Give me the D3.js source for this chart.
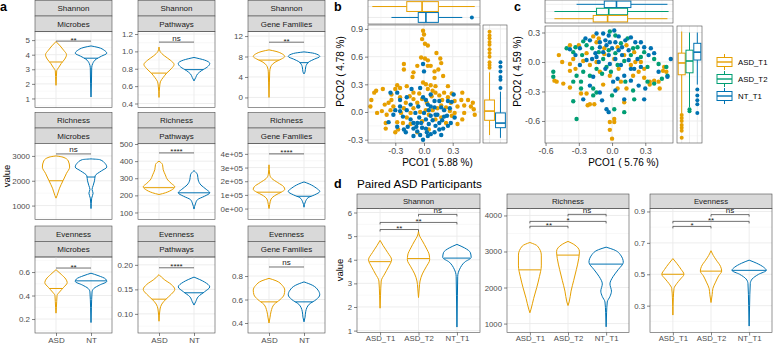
<!DOCTYPE html>
<html>
<meta charset="utf-8" />
<script src="https://d3js.org/d3.v7.min.js"></script>
<style>
  body { margin: 0; background: #fff; }
  svg { display: block; font-family: "Liberation Sans", Arial, sans-serif; }
</style>
<body>
<svg id="fig" width="773" height="345"></svg>
<script>
const ORANGE = "#E69F00", BLUE = "#0072B2", GREEN = "#009E73";

// ---------- panel a : violin profiles [value, half width in category units]
const aGroups = ["ASD", "NT"];
const aMetrics = ["Shannon", "Richness", "Evenness"];
const aSources = ["Microbes", "Pathways", "Gene Families"];

const shanMicASD = [[4.9,0],[4.6,0.12],[4.3,0.22],[4.0,0.30],[3.7,0.25],[3.4,0.15],[3.1,0.07],[2.9,0.02],[2.5,0.012],[1.9,0]];
const shanMicNT = [[4.6,0],[4.5,0.2],[4.3,0.38],[4.1,0.45],[3.9,0.3],[3.7,0.15],[3.4,0.05],[3.1,0.02],[2.0,0.012],[1.1,0]];
const shanPathASD = [[1.05,0],[1.0,0.03],[0.95,0.15],[0.9,0.32],[0.85,0.43],[0.8,0.35],[0.75,0.22],[0.7,0.12],[0.65,0.04],[0.6,0.02],[0.47,0]];
const shanPathNT = [[0.93,0],[0.9,0.3],[0.86,0.45],[0.82,0.38],[0.78,0.22],[0.74,0.1],[0.7,0.05],[0.66,0]];
const shanGeneASD = [[9.3,0],[9,0.2],[8.5,0.38],[8,0.45],[7.5,0.35],[7,0.2],[6.5,0.1],[6,0.05],[5,0.02],[3,0.012],[0,0]];
const shanGeneNT = [[8.9,0],[8.6,0.3],[8,0.45],[7.5,0.3],[7,0.15],[6.5,0.08],[6,0.05],[5,0.03],[4.6,0]];
const richMicASD = [[3000,0],[2950,0.2],[2800,0.35],[2550,0.39],[2300,0.3],[2000,0.2],[1700,0.1],[1400,0.03],[1300,0]];
const richMicNT = [[2880,0],[2850,0.25],[2700,0.4],[2550,0.45],[2400,0.3],[2200,0.12],[2000,0.1],[1800,0.06],[1650,0.03],[1500,0.06],[1300,0.02],[880,0]];
const richPathASD = [[400,0],[380,0.1],[350,0.12],[320,0.18],[290,0.25],[270,0.35],[250,0.45],[230,0.35],[210,0.1],[205,0]];
const richPathNT = [[345,0],[320,0.1],[290,0.12],[260,0.2],[235,0.35],[215,0.45],[195,0.3],[175,0.1],[150,0.04],[120,0]];
const richGeneASD = [[320000,0],[250000,0.02],[220000,0.08],[190000,0.25],[160000,0.42],[140000,0.45],[120000,0.35],[100000,0.2],[70000,0.06],[30000,0.02],[0,0]];
const richGeneNT = [[195000,0],[180000,0.15],[150000,0.35],[125000,0.45],[100000,0.3],[80000,0.12],[50000,0.04],[10000,0]];
const evenMicASD = [[0.62,0],[0.58,0.15],[0.54,0.28],[0.51,0.32],[0.47,0.22],[0.43,0.1],[0.4,0.03],[0.3,0.012],[0.25,0]];
const evenMicNT = [[0.59,0],[0.57,0.2],[0.54,0.42],[0.52,0.45],[0.49,0.25],[0.46,0.08],[0.43,0.03],[0.3,0.012],[0.17,0]];
const evenPathASD = [[0.18,0],[0.17,0.15],[0.16,0.35],[0.15,0.45],[0.14,0.35],[0.13,0.2],[0.12,0.08],[0.11,0.03],[0.085,0]];
const evenPathNT = [[0.175,0],[0.165,0.3],[0.155,0.45],[0.145,0.3],[0.135,0.12],[0.125,0.05],[0.118,0]];
const evenGeneASD = [[0.78,0],[0.76,0.2],[0.72,0.38],[0.68,0.45],[0.64,0.43],[0.6,0.32],[0.56,0.15],[0.5,0.06],[0.45,0.03],[0.4,0]];
const evenGeneNT = [[0.75,0],[0.72,0.25],[0.68,0.4],[0.64,0.45],[0.6,0.35],[0.56,0.15],[0.5,0.05],[0.45,0.03],[0.41,0]];

const aMedASD = [3.5, 0.75, 7.3, 2000, 245, 120000, 0.46, 0.13, 0.58];
const aMedNT = [3.76, 0.79, 6.8, 2150, 215, 90000, 0.525, 0.143, 0.58];
const aSig = ["**", "ns", "**", "ns", "****", "****", "**", "****", "ns"];
const aSigY = [4.93, 1.107, 10.8, 3080, 448, 400000, 0.634, 0.194, 0.877];

const aDomains = [[0.38,5.59],[0.354,1.229],[-1.97,12.89],[440,3500],[59,503],[-80000,476000],[0.081,0.728],[0.061,0.216],[0.315,0.962]];
const aTicks = [[1,2,3,4,5],[0.4,0.6,0.8,1.0,1.2],[0,4,8,12],[1000,2000,3000],[100,200,300,400,500],[0,100000,200000,300000,400000],[0.2,0.4,0.6],[0.10,0.15,0.20],[0.4,0.6,0.8]];

// ---------- panel b / c : PCoA points [PCO1, PCO2]
const bASD = [[-0.01,0.88],[0,0.84],[-0.02,0.79],[0.01,0.74],[0.04,0.72],[-0.03,0.59],[0.01,0.58],[0.04,0.56],[0.13,0.64],[0.17,0.58],[0.18,0.53],[0.15,0.46],[0.11,0.44],[0.07,0.5],[0.04,0.5],[-0.07,0.5],[-0.11,0.43],[-0.12,0.38],[-0.21,0.52],[-0.21,0.46],[0.11,0.37],[0.2,0.39],[-0.01,0.32],[0.02,0.3],[0.07,0.29],[0.04,0.25],[0.12,0.28],[-0.28,0.29],[-0.3,0.25],[-0.25,0.26],[-0.18,0.28],[-0.43,0.25],[-0.5,0.23],[-0.52,0.21],[-0.55,0.13],[-0.56,0.06],[-0.49,-0.01],[-0.44,0.01],[-0.41,0.08],[-0.37,0.1],[-0.34,0.13],[-0.32,0.06],[-0.35,0.02],[-0.39,-0.03],[-0.4,-0.12],[-0.4,-0.18],[-0.28,-0.11],[-0.24,-0.01],[-0.19,0.1],[-0.21,0.04],[-0.15,0.17],[-0.11,0.14],[-0.07,0.1],[-0.05,0.2],[-0.02,0.14],[0.03,0.1],[0.08,0.17],[0.12,0.21],[0.16,0.18],[0.21,0.21],[0.25,0.16],[0.29,0.2],[0.32,0.12],[0.35,0.06],[0.39,0.13],[0.42,0.07],[0.46,0.13],[0.49,0.06],[0.51,0.1],[0.52,0.03],[0.53,-0.03],[0.42,-0.01],[0.4,-0.08],[0.35,-0.13],[0.29,-0.04],[0.27,0.01],[0.23,0.05],[0.18,0.07],[0.14,0.04],[0.09,0.02],[0.05,-0.03],[0.02,0.02],[-0.04,0],[-0.11,0.04],[-0.14,-0.01],[-0.18,-0.06],[-0.22,-0.12],[-0.27,-0.19],[-0.3,-0.22],[-0.14,-0.13],[0.18,-0.06],[0.23,-0.12],[0.05,-0.19],[-0.07,-0.22],[-0.02,-0.1],[0.12,-0.08],[0.28,0.1],[-0.25,0.16],[-0.34,0.19],[0.4,0.21],[0.32,-0.01],[-0.11,0.21],[0.25,0.28],[0.09,0.23],[0.19,0.13]];
const bNT = [[-0.01,0.52],[0,0.44],[-0.13,0.25],[-0.04,0.26],[-0.18,0.16],[-0.28,0.21],[-0.35,0.21],[-0.25,0.13],[0.02,0.13],[0.04,0.08],[0.07,0.06],[0.11,0.12],[0.16,0.12],[0.18,0.05],[0.21,0.02],[0.27,0.04],[0.32,-0.06],[0.28,-0.12],[0.25,-0.15],[0.2,-0.18],[0.16,-0.19],[0.11,-0.22],[0.07,-0.24],[0.04,-0.26],[-0.01,-0.3],[-0.04,-0.25],[-0.07,-0.21],[-0.11,-0.18],[-0.11,-0.12],[-0.14,-0.08],[-0.17,-0.16],[-0.19,-0.22],[-0.21,-0.19],[-0.25,0.01],[-0.3,0.02],[-0.32,-0.03],[-0.37,-0.11],[-0.28,-0.16],[-0.09,-0.01],[-0.05,-0.06],[-0.03,-0.12],[0.02,-0.08],[0.05,-0.13],[0.09,-0.09],[0.12,-0.15],[0.16,-0.12],[0.19,-0.09],[0.21,-0.05],[0.14,-0.03],[0,-0.01],[-0.06,0.06],[-0.01,0.16],[0.07,0.19],[0.12,-0.03],[0.02,-0.18],[0.07,-0.04],[-0.11,-0.26],[0.18,-0.25],[-0.22,-0.05],[-0.18,0.02],[0.29,0.11],[0.31,0.19],[0.25,0.12],[-0.07,-0.12],[-0.14,0.08],[-0.25,0.06],[0.05,0.02],[0.24,-0.04],[0.11,0.05],[-0.02,-0.17],[-0.08,-0.16],[0.03,-0.22]];

const cT1 = [[0,-0.78],[-0.02,-0.69],[0.02,-0.61],[0.02,-0.58],[-0.02,-0.61],[-0.22,-0.44],[-0.2,-0.43],[-0.16,-0.43],[0.11,-0.41],[-0.08,-0.23],[-0.23,-0.32],[-0.28,-0.32],[-0.38,-0.26],[-0.44,-0.22],[-0.5,-0.2],[-0.52,-0.19],[-0.48,0.07],[-0.45,0],[-0.38,-0.02],[-0.38,-0.09],[-0.33,-0.07],[-0.35,0.03],[-0.3,0.17],[-0.38,0.17],[-0.17,0.26],[-0.12,0.24],[-0.23,0.09],[-0.26,0.01],[-0.2,-0.03],[-0.14,0],[-0.11,-0.1],[-0.02,-0.14],[0.06,-0.07],[0.02,0.03],[0.11,0.07],[0.17,-0.03],[0.19,-0.14],[0.24,-0.1],[0.29,-0.16],[0.34,-0.2],[0.34,-0.23],[0.38,-0.19],[0.42,-0.2],[0.43,-0.27],[0.47,-0.05],[0.46,-0.09],[0.49,-0.1],[0.08,-0.2],[0.13,-0.27],[0.26,0],[0.2,0.1],[0.13,0.17],[0.05,0.15],[-0.07,0.14],[-0.07,0.08],[-0.14,0.2],[0.05,-0.27],[0.21,0],[0.29,-0.07]];
const cT2 = [[-0.53,-0.1],[-0.53,-0.15],[-0.35,-0.4],[-0.32,-0.58],[-0.28,-0.27],[-0.28,-0.2],[-0.17,-0.34],[-0.17,-0.27],[-0.14,-0.31],[0,-0.34],[0.02,-0.48],[0.11,-0.51],[0.2,-0.38],[0.19,-0.29],[0.12,-0.2],[0.32,-0.2],[0.38,-0.22],[0.45,-0.17],[0.5,-0.14],[0.49,-0.05],[0.42,-0.02],[0.38,0.03],[0.29,0.1],[0.23,0.15],[0.17,0.07],[0.11,0.01],[0.05,-0.03],[-0.01,-0.1],[-0.05,-0.05],[-0.09,-0.12],[-0.14,-0.07],[-0.2,-0.14],[-0.26,-0.1],[-0.32,-0.14],[-0.35,-0.2],[-0.41,0.14],[-0.33,0.15],[-0.35,0.1],[-0.27,0.07],[-0.23,0.17],[-0.18,0.14],[-0.12,0.1],[-0.08,0.03],[-0.03,0.12],[0.03,0.09],[0.08,0.19],[0.14,0.24],[0.19,0.14],[0.26,0.05],[0.32,-0.05],[-0.26,0.21],[-0.02,0.31],[0.03,0.27]];
const cNT = [[-0.24,0.24],[-0.2,0.22],[-0.14,0.29],[-0.08,0.29],[-0.03,0.27],[0.02,0.32],[0.06,0.26],[0.12,0.22],[0.17,0.25],[0.21,0.2],[0.26,0.2],[0.29,0.15],[0.35,0.14],[0.33,0.07],[0.38,0.09],[0.42,-0.1],[0.53,0.03],[0.5,-0.15],[0.26,-0.05],[0.2,-0.07],[0.15,0.02],[0.09,0.07],[0.06,0.12],[0,0.14],[-0.05,0.17],[-0.11,0.15],[-0.15,0.09],[-0.18,0.03],[-0.23,0.02],[-0.29,-0.03],[-0.33,0.07],[-0.38,0.13],[-0.29,0.14],[-0.11,0.2],[-0.06,0.22],[-0.02,0.2],[0.09,0.15],[0.15,0.12],[0.03,0.03],[-0.02,-0.02],[-0.06,-0.07],[-0.12,0],[-0.17,-0.15],[-0.2,-0.24],[-0.26,-0.38],[-0.11,-0.31],[-0.09,-0.39],[-0.05,-0.48],[-0.03,-0.51],[0.01,-0.2],[0.05,-0.17],[0.11,-0.14],[0.17,-0.19],[0.24,-0.24],[0.3,-0.27],[0.29,-0.38],[0.11,-0.38],[0.03,-0.29],[0.17,-0.07],[0.23,0.03],[0.08,-0.03],[-0.03,0.07],[0.03,0.2],[-0.08,0.1],[-0.14,0.05]];

// marginal boxplots: [lower whisker, q1, median, q3, upper whisker], plus outliers
const bTopBoxASD = [-0.54, -0.18, -0.02, 0.15, 0.53];
const bTopBoxNT = [-0.34, -0.06, 0.02, 0.15, 0.40];
const bTopOutNT = [0.50];
const bRightBoxASD = [-0.25, -0.09, 0.01, 0.13, 0.43];
const bRightOutASD = [0.48, 0.51, 0.54, 0.60, 0.64, 0.68, 0.73, 0.76, 0.80, 0.83, 0.87];
const bRightBoxNT = [-0.28, -0.17, -0.12, -0.01, 0.22];
const bRightOutNT = [0.26, 0.35, 0.38, 0.44, 0.49, 0.54];
const cTopBoxT1 = [-0.52, -0.17, -0.04, 0.14, 0.50];
const cTopBoxT2 = [-0.52, -0.14, -0.03, 0.14, 0.51];
const cTopBoxNT = [-0.32, -0.07, 0.04, 0.17, 0.50];
const cRightBoxT1 = [-0.52, -0.13, -0.01, 0.09, 0.31];
const cRightOutT1 = [-0.54, -0.57, -0.60, -0.64, -0.67, -0.70, -0.77];
const cRightBoxT2 = [-0.46, -0.11, 0.01, 0.12, 0.30];
const cRightOutT2 = [-0.48, -0.50];
const cRightBoxNT = [-0.23, 0.02, 0.10, 0.19, 0.30];
const cRightOutNT = [-0.28, -0.34, -0.39, -0.43, -0.52];

// ---------- panel d : paired ASD participants
const dGroups = ["ASD_T1", "ASD_T2", "NT_T1"];
const dMetrics = ["Shannon", "Richness", "Evenness"];
const dShanT1 = [[4.82,0],[4.6,0.08],[4.3,0.2],[4.0,0.3],[3.7,0.22],[3.4,0.12],[3.1,0.03],[2.5,0.012],[1.95,0]];
const dShanT2 = [[5.2,0],[5.0,0.03],[4.8,0.1],[4.5,0.2],[4.2,0.28],[4.0,0.29],[3.7,0.2],[3.4,0.1],[3.1,0.04],[2.8,0.02],[2.4,0]];
const dShanNT = [[4.65,0],[4.5,0.2],[4.3,0.35],[4.1,0.37],[3.9,0.2],[3.6,0.07],[3.3,0.02],[2.5,0.012],[1.15,0]];
const dRichT1 = [[3250,0],[3150,0.2],[2900,0.3],[2600,0.3],[2300,0.25],[2000,0.18],[1700,0.1],[1400,0.03],[1300,0]];
const dRichT2 = [[3280,0],[3200,0.15],[3000,0.3],[2800,0.28],[2500,0.22],[2200,0.15],[1900,0.08],[1600,0.03],[1500,0]];
const dRichNT = [[3120,0],[3050,0.2],[2900,0.38],[2700,0.45],[2500,0.32],[2300,0.18],[2100,0.1],[1900,0.14],[1750,0.1],[1600,0.03],[1300,0.012],[910,0]];
const dEvenT1 = [[0.6,0],[0.57,0.1],[0.53,0.22],[0.5,0.29],[0.47,0.2],[0.44,0.1],[0.41,0.03],[0.35,0.012],[0.24,0]];
const dEvenT2 = [[0.65,0],[0.62,0.06],[0.59,0.14],[0.55,0.25],[0.52,0.28],[0.49,0.2],[0.45,0.12],[0.41,0.05],[0.37,0.03],[0.32,0]];
const dEvenNT = [[0.59,0],[0.57,0.2],[0.545,0.38],[0.525,0.45],[0.5,0.25],[0.47,0.08],[0.44,0.03],[0.3,0.012],[0.17,0]];
const dMedT1 = [3.92, 2490, 0.5];
const dMedT2 = [4.05, 2900, 0.52];
const dMedNT = [4.07, 2650, 0.525];
const dPairs = [[0, 1], [0, 2], [1, 2]];
const dShanSig = ["**", "**", "ns"], dShanSigY = [5.28, 5.58, 5.92];
const dRichSig = ["**", "*", "ns"], dRichSigY = [3700, 3835, 4030];
const dEvenSig = ["*", "**", "ns"], dEvenSigY = [0.805, 0.837, 0.88];
const dDomains = [[0.92, 6.17], [752, 4193], [0.129, 0.919]];
const dTicks = [[1, 2, 3, 4, 5, 6], [1000, 2000, 3000, 4000], [0.3, 0.5, 0.7, 0.9]];

const svg = d3.select("#fig");
svg.append("rect").attr("width", 773).attr("height", 345).attr("fill", "#fff");

function styleAxis(a, fs) {
  a.select(".domain").remove();
  a.selectAll(".tick line").attr("stroke", "#333").attr("stroke-width", 0.6);
  a.selectAll(".tick text").attr("fill", "#4D4D4D").style("font-size", fs + "px")
    .style("font-family", '"Liberation Sans", Arial, sans-serif');
}

function gridY(g, ys, x0, x1, ticks, dom) {
  const s = ticks[1] - ticks[0];
  const minor = [];
  for (let v = ticks[0] - s / 2; v <= dom[1]; v += s) if (v >= dom[0]) minor.push(v);
  g.selectAll(null).data(minor).join("line")
    .attr("x1", x0).attr("x2", x1).attr("y1", d => ys(d)).attr("y2", d => ys(d))
    .attr("stroke", "#F0F0F0").attr("stroke-width", 0.5);
  g.selectAll(null).data(ticks.filter(v => v >= dom[0] && v <= dom[1])).join("line")
    .attr("x1", x0).attr("x2", x1).attr("y1", d => ys(d)).attr("y2", d => ys(d))
    .attr("stroke", "#EBEBEB").attr("stroke-width", 0.9);
}
function gridX(g, xs, y0, y1, ticks, dom) {
  const s = ticks[1] - ticks[0];
  const minor = [];
  for (let v = ticks[0] - s / 2; v <= dom[1]; v += s) if (v >= dom[0]) minor.push(v);
  g.selectAll(null).data(minor).join("line")
    .attr("y1", y0).attr("y2", y1).attr("x1", d => xs(d)).attr("x2", d => xs(d))
    .attr("stroke", "#F0F0F0").attr("stroke-width", 0.5);
  g.selectAll(null).data(ticks.filter(v => v >= dom[0] && v <= dom[1])).join("line")
    .attr("y1", y0).attr("y2", y1).attr("x1", d => xs(d)).attr("x2", d => xs(d))
    .attr("stroke", "#EBEBEB").attr("stroke-width", 0.9);
}

function strip(x, y, w, h, label, fs) {
  svg.append("rect").attr("x", x).attr("y", y).attr("width", w).attr("height", h)
    .attr("fill", "#D9D9D9").attr("stroke", "#4D4D4D").attr("stroke-width", 0.6);
  svg.append("text").attr("x", x + w / 2).attr("y", y + h / 2 + fs * 0.35)
    .attr("text-anchor", "middle").attr("fill", "#1A1A1A").style("font-size", fs + "px").text(label);
}

function halfWidthAt(prof, v) {
  for (let i = 0; i < prof.length - 1; i++) {
    const a = prof[i], b = prof[i + 1];
    if (v <= a[0] && v >= b[0]) return a[1] + (b[1] - a[1]) * (a[0] - v) / (a[0] - b[0]);
  }
  return 0;
}

function violinPanel(o) {
  const g = svg.append("g");
  const xs = d3.scalePoint().domain(o.groups).range([o.x, o.x + o.w]).padding(0.6);
  const ys = d3.scaleLinear().domain(o.domain).range([o.y + o.h, o.y]);
  const step = xs.step();
  gridY(g, ys, o.x, o.x + o.w, o.ticks, o.domain);
  g.selectAll(null).data(o.groups).join("line")
    .attr("x1", d => xs(d)).attr("x2", d => xs(d)).attr("y1", o.y).attr("y2", o.y + o.h)
    .attr("stroke", "#EBEBEB").attr("stroke-width", 0.9);

  o.groups.forEach((grp, i) => {
    const cx = xs(grp), prof = o.profiles[i];
    const area = d3.area()
      .y(d => ys(d[0])).x0(d => cx - d[1] * step).x1(d => cx + d[1] * step)
      .curve(d3.curveMonotoneY);
    g.append("path").attr("d", area(prof)).attr("fill", "none")
      .attr("stroke", o.colors[i]).attr("stroke-width", 1);
    const hw = halfWidthAt(prof, o.medians[i]) * step;
    g.append("line").attr("x1", cx - hw).attr("x2", cx + hw)
      .attr("y1", ys(o.medians[i])).attr("y2", ys(o.medians[i]))
      .attr("stroke", o.colors[i]).attr("stroke-width", 1);
  });

  o.pairs.forEach((p, k) => {
    const x1 = xs(o.groups[p[0]]), x2 = xs(o.groups[p[1]]), yy = ys(o.sigY[k]);
    g.append("path")
      .attr("d", o.tips ? `M${x1},${yy + 2}V${yy}H${x2}V${yy + 2}` : `M${x1},${yy}H${x2}`)
      .attr("fill", "none").attr("stroke", "#333").attr("stroke-width", 0.7);
    g.append("text").attr("x", (x1 + x2) / 2).attr("y", o.sig[k] === "ns" ? yy - 1.5 : yy + 1.5)
      .attr("text-anchor", "middle").attr("fill", "#222").style("font-size", "8px").text(o.sig[k]);
  });

  g.append("rect").attr("x", o.x).attr("y", o.y).attr("width", o.w).attr("height", o.h)
    .attr("fill", "none").attr("stroke", "#4D4D4D").attr("stroke-width", 0.6);

  const ay = g.append("g").attr("transform", `translate(${o.x},0)`)
    .call(d3.axisLeft(ys).tickValues(o.ticks).tickSize(3).tickPadding(2).tickFormat(o.fmt));
  styleAxis(ay, o.fs);
  if (o.showX) {
    const ax = g.append("g").attr("transform", `translate(0,${o.y + o.h})`)
      .call(d3.axisBottom(xs).tickSize(3).tickPadding(o.xPad));
    styleAxis(ax, o.fs);
  }
}

// ---------- panel a
const aProfiles = [
  [shanMicASD, shanMicNT], [shanPathASD, shanPathNT], [shanGeneASD, shanGeneNT],
  [richMicASD, richMicNT], [richPathASD, richPathNT], [richGeneASD, richGeneNT],
  [evenMicASD, evenMicNT], [evenPathASD, evenPathNT], [evenGeneASD, evenGeneNT]
];
const aFmt = [
  d3.format("d"), d3.format(".1f"), d3.format("d"),
  d3.format("d"), d3.format("d"), v => (v / 100000) + "e+0" + (v === 0 ? "0" : "5"),
  d3.format(".1f"), d3.format(".2f"), d3.format(".1f")
];
const colX = [35, 138, 248], rowY = [31.5, 143.5, 257];
aMetrics.forEach((m, r) => {
  aSources.forEach((s, c) => {
    const k = r * 3 + c;
    strip(colX[c], rowY[r] - 31, 77, 15.5, m, 8);
    strip(colX[c], rowY[r] - 15.5, 77, 15.5, s, 8);
    violinPanel({
      x: colX[c], y: rowY[r], w: 77, h: 76, groups: aGroups, colors: [ORANGE, BLUE],
      profiles: aProfiles[k], medians: [aMedASD[k], aMedNT[k]], domain: aDomains[k],
      ticks: aTicks[k], fmt: aFmt[k], pairs: [[0, 1]], sig: [aSig[k]], sigY: [aSigY[k]],
      showX: r === 2, fs: 8, tips: false, xPad: 1.5
    });
  });
});
svg.append("text").attr("transform", "translate(10,176) rotate(-90)").attr("text-anchor", "middle")
  .style("font-size", "9.5px").text("value");
svg.append("text").attr("x", 0).attr("y", 11).style("font-size", "12.5px").style("font-weight", "bold").text("a");

// ---------- panel d
const dProfiles = [[dShanT1, dShanT2, dShanNT], [dRichT1, dRichT2, dRichNT], [dEvenT1, dEvenT2, dEvenNT]];
const dSig = [dShanSig, dRichSig, dEvenSig], dSigY = [dShanSigY, dRichSigY, dEvenSigY];
const dFmt = [d3.format("d"), d3.format("d"), d3.format(".1f")];
const dX = [357, 507, 650], dW = [123, 122, 122];
dMetrics.forEach((m, i) => {
  strip(dX[i], 194, dW[i], 14.5, m, 7.8);
  violinPanel({
    x: dX[i], y: 208.5, w: dW[i], h: 124, groups: dGroups, colors: [ORANGE, ORANGE, BLUE],
    profiles: dProfiles[i], medians: [dMedT1[i], dMedT2[i], dMedNT[i]], domain: dDomains[i],
    ticks: dTicks[i], fmt: dFmt[i], pairs: dPairs, sig: dSig[i], sigY: dSigY[i],
    showX: true, fs: 7.8, tips: true, xPad: 0
  });
});
svg.append("text").attr("transform", "translate(343,270) rotate(-90)").attr("text-anchor", "middle")
  .style("font-size", "9.5px").text("value");
svg.append("text").attr("x", 334).attr("y", 188).style("font-size", "12.5px").style("font-weight", "bold").text("d");
svg.append("text").attr("x", 357).attr("y", 188).style("font-size", "11.7px").text("Paired ASD Participants");

// ---------- scatter with marginal boxplots
function boxH(g, xs, cy, bh, st, outs, col) {
  g.append("line").attr("x1", xs(st[0])).attr("x2", xs(st[1])).attr("y1", cy).attr("y2", cy).attr("stroke", col);
  g.append("line").attr("x1", xs(st[3])).attr("x2", xs(st[4])).attr("y1", cy).attr("y2", cy).attr("stroke", col);
  g.append("rect").attr("x", xs(st[1])).attr("y", cy - bh / 2).attr("width", xs(st[3]) - xs(st[1])).attr("height", bh)
    .attr("fill", "#fff").attr("stroke", col);
  g.append("line").attr("x1", xs(st[2])).attr("x2", xs(st[2])).attr("y1", cy - bh / 2).attr("y2", cy + bh / 2)
    .attr("stroke", col).attr("stroke-width", 1.6);
  g.selectAll(null).data(outs).join("circle").attr("cx", d => xs(d)).attr("cy", cy).attr("r", 2).attr("fill", col);
}
function boxV(g, ys, cx, bw, st, outs, col) {
  g.append("line").attr("y1", ys(st[0])).attr("y2", ys(st[1])).attr("x1", cx).attr("x2", cx).attr("stroke", col);
  g.append("line").attr("y1", ys(st[3])).attr("y2", ys(st[4])).attr("x1", cx).attr("x2", cx).attr("stroke", col);
  g.append("rect").attr("y", ys(st[3])).attr("x", cx - bw / 2).attr("height", ys(st[1]) - ys(st[3])).attr("width", bw)
    .attr("fill", "#fff").attr("stroke", col);
  g.append("line").attr("y1", ys(st[2])).attr("y2", ys(st[2])).attr("x1", cx - bw / 2).attr("x2", cx + bw / 2)
    .attr("stroke", col).attr("stroke-width", 1.6);
  g.selectAll(null).data(outs).join("circle").attr("cy", d => ys(d)).attr("cx", cx).attr("r", 2).attr("fill", col);
}

function pcoaPanel(o) {
  const g = svg.append("g");
  const xs = d3.scaleLinear().domain(o.xDom).range([o.x, o.x + o.w]);
  const ys = d3.scaleLinear().domain(o.yDom).range([o.y + o.h, o.y]);
  // main
  gridY(g, ys, o.x, o.x + o.w, o.yTicks, o.yDom);
  gridX(g, xs, o.y, o.y + o.h, o.xTicks, o.xDom);
  o.sets.forEach((pts, i) => {
    g.selectAll(null).data(pts).join("circle")
      .attr("cx", d => xs(d[0])).attr("cy", d => ys(d[1])).attr("r", 2.2).attr("fill", o.colors[i]);
  });
  g.append("rect").attr("x", o.x).attr("y", o.y).attr("width", o.w).attr("height", o.h)
    .attr("fill", "none").attr("stroke", "#4D4D4D").attr("stroke-width", 0.6);
  styleAxis(g.append("g").attr("transform", `translate(${o.x},0)`)
    .call(d3.axisLeft(ys).tickValues(o.yTicks).tickSize(3).tickPadding(2).tickFormat(v => v.toFixed(1))), 8.7);
  styleAxis(g.append("g").attr("transform", `translate(0,${o.y + o.h})`)
    .call(d3.axisBottom(xs).tickValues(o.xTicks).tickSize(3).tickPadding(2).tickFormat(v => v.toFixed(1))), 8.7);

  // top marginal
  const ty = d3.scalePoint().domain(o.topOrder).range([o.topY0, o.topY1]).padding(0.6);
  gridX(g, xs, o.topY0, o.topY1, o.xTicks, o.xDom);
  g.selectAll(null).data(o.topOrder).join("line").attr("x1", o.x).attr("x2", o.x + o.w)
    .attr("y1", d => ty(d)).attr("y2", d => ty(d)).attr("stroke", "#EBEBEB").attr("stroke-width", 0.9);
  o.topOrder.forEach((k, i) => boxH(g, xs, ty(k), ty.step() * 0.9, o.topBoxes[i], o.topOuts[i], o.topCols[i]));
  g.append("rect").attr("x", o.x).attr("y", o.topY0).attr("width", o.w).attr("height", o.topY1 - o.topY0)
    .attr("fill", "none").attr("stroke", "#4D4D4D").attr("stroke-width", 0.6);

  // right marginal
  const rx = d3.scalePoint().domain(o.rightOrder).range([o.rX0, o.rX1]).padding(0.6);
  gridY(g, ys, o.rX0, o.rX1, o.yTicks, o.yDom);
  g.selectAll(null).data(o.rightOrder).join("line").attr("y1", o.y).attr("y2", o.y + o.h)
    .attr("x1", d => rx(d)).attr("x2", d => rx(d)).attr("stroke", "#EBEBEB").attr("stroke-width", 0.9);
  o.rightOrder.forEach((k, i) => boxV(g, ys, rx(k), rx.step() * 0.9, o.rightBoxes[i], o.rightOuts[i], o.rightCols[i]));
  g.append("rect").attr("x", o.rX0).attr("y", o.y).attr("width", o.rX1 - o.rX0).attr("height", o.h)
    .attr("fill", "none").attr("stroke", "#4D4D4D").attr("stroke-width", 0.6);

  svg.append("text").attr("x", (o.x + o.rX1) / 2).attr("y", o.y + o.h + 23).attr("text-anchor", "middle")
    .style("font-size", "10px").text(o.xLabel);
  svg.append("text").attr("transform", `translate(${o.yLabX},${(o.topY0 + o.y + o.h) / 2}) rotate(-90)`)
    .attr("text-anchor", "middle").style("font-size", "10px").text(o.yLabel);
}

pcoaPanel({
  x: 368, y: 25, w: 112, h: 118, xDom: [-0.585, 0.585], yDom: [-0.336, 0.943],
  xTicks: [-0.3, 0, 0.3], yTicks: [-0.3, 0, 0.3, 0.6, 0.9],
  sets: [bASD, bNT], colors: [ORANGE, BLUE],
  topY0: 0, topY1: 24, topOrder: ["ASD", "NT"], topBoxes: [bTopBoxASD, bTopBoxNT], topOuts: [[], bTopOutNT], topCols: [ORANGE, BLUE],
  rX0: 483, rX1: 507, rightOrder: ["ASD", "NT"], rightBoxes: [bRightBoxASD, bRightBoxNT], rightOuts: [bRightOutASD, bRightOutNT], rightCols: [ORANGE, BLUE],
  xLabel: "PCO1 ( 5.88 %)", yLabel: "PCO2 ( 4.78 %)", yLabX: 344
});
pcoaPanel({
  x: 545, y: 26, w: 128, h: 117, xDom: [-0.605, 0.55], yDom: [-0.824, 0.366],
  xTicks: [-0.6, -0.3, 0, 0.3], yTicks: [-0.6, -0.3, 0, 0.3],
  sets: [cT1, cT2, cNT], colors: [ORANGE, GREEN, BLUE],
  topY0: 0, topY1: 23, topOrder: ["NT_T1", "ASD_T2", "ASD_T1"], topBoxes: [cTopBoxNT, cTopBoxT2, cTopBoxT1], topOuts: [[], [], []], topCols: [BLUE, GREEN, ORANGE],
  rX0: 677, rX1: 702, rightOrder: ["ASD_T1", "ASD_T2", "NT_T1"], rightBoxes: [cRightBoxT1, cRightBoxT2, cRightBoxNT], rightOuts: [cRightOutT1, cRightOutT2, cRightOutNT], rightCols: [ORANGE, GREEN, BLUE],
  xLabel: "PCO1 ( 5.76 %)", yLabel: "PCO2 ( 4.59 %)", yLabX: 521
});
svg.append("text").attr("x", 334).attr("y", 11).style("font-size", "12.5px").style("font-weight", "bold").text("b");
svg.append("text").attr("x", 514).attr("y", 11).style("font-size", "12.5px").style("font-weight", "bold").text("c");

// ---------- legend
const legNames = ["ASD_T1", "ASD_T2", "NT_T1"], legCols = [ORANGE, GREEN, BLUE];
const legY = d3.scalePoint().domain(legNames).range([62, 96]);
const leg = svg.append("g");
legNames.forEach((n, i) => {
  const cy = legY(n), col = legCols[i];
  leg.append("line").attr("x1", 724.5).attr("x2", 724.5).attr("y1", cy - 8).attr("y2", cy + 8).attr("stroke", col);
  leg.append("rect").attr("x", 717).attr("y", cy - 4.5).attr("width", 15).attr("height", 9)
    .attr("fill", "#fff").attr("stroke", col);
  leg.append("line").attr("x1", 717).attr("x2", 732).attr("y1", cy).attr("y2", cy).attr("stroke", col).attr("stroke-width", 1.4);
  leg.append("text").attr("x", 738).attr("y", cy + 3).style("font-size", "7.8px").text(n);
});
</script>
</body>
</html>
